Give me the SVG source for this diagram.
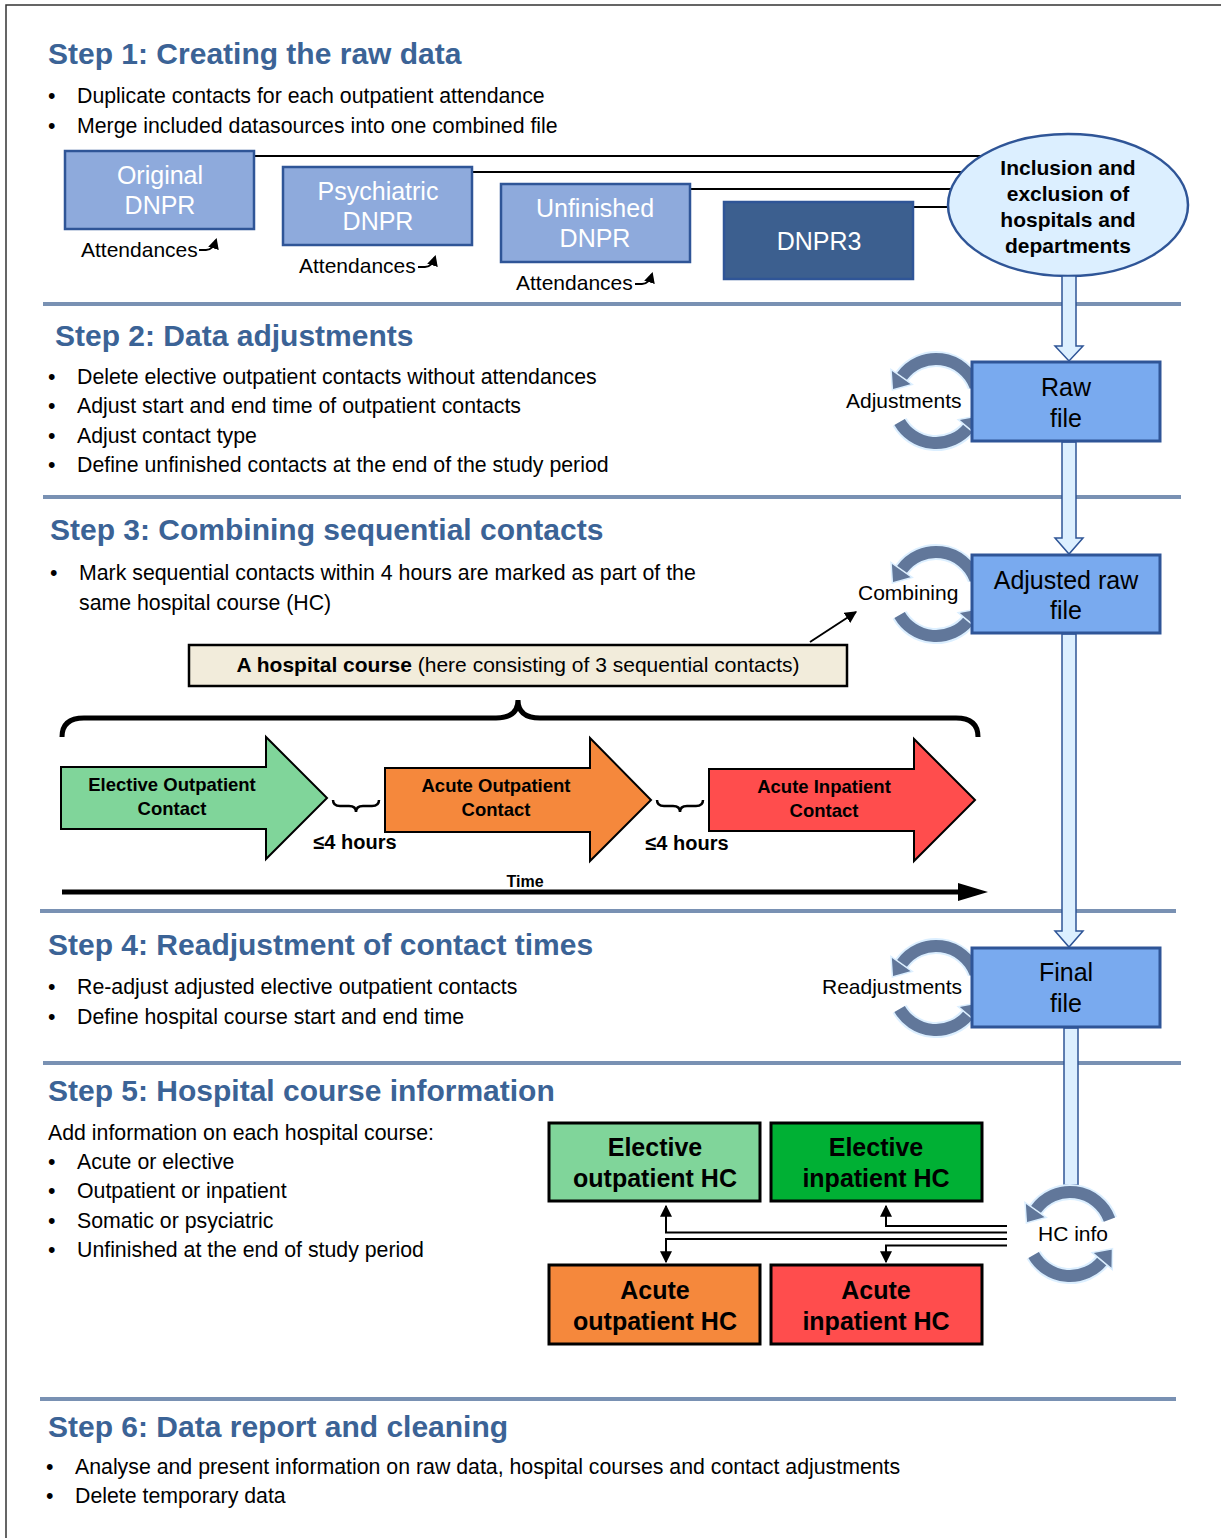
<svg xmlns="http://www.w3.org/2000/svg" width="1221" height="1538" viewBox="0 0 1221 1538">
<style>
  text { font-family: "Liberation Sans", Arial, sans-serif; fill: #000; }
  .title { font-size: 30px; font-weight: bold; fill: #3b6396; }
  .body { font-size: 21.3px; }
  .lbl { font-size: 21px; }
  .src { fill: #8eaadc; stroke: #2f5597; stroke-width: 2.5; }
  .srct { font-size: 25px; fill: #fff; text-anchor: middle; }
  .file { fill: #79aaef; stroke: #2f5597; stroke-width: 3; }
  .filet { font-size: 25px; text-anchor: middle; }
  .sep { stroke: #7991b3; stroke-width: 4; fill: none; }
  .blk { fill: #dcefff; stroke: #2f5597; stroke-width: 1.5; }
  .conn { stroke: #000; stroke-width: 2; fill: none; }
  .hc { stroke: #000; stroke-width: 3; }
  .hct { font-size: 25px; font-weight: bold; text-anchor: middle; }
  .arrt { font-size: 18.5px; font-weight: bold; text-anchor: middle; }
  .hrs { font-size: 20px; font-weight: bold; text-anchor: middle; }
  .cyc { fill: none; stroke: #61779a; stroke-width: 12; }
  .cycg { fill: none; stroke: #dcefff; stroke-width: 16; }
  .cyh { fill: #61779a; stroke: #dcefff; stroke-width: 1.5; }
</style>
<defs>
  <marker id="ah" markerUnits="userSpaceOnUse" viewBox="0 0 10 10" markerWidth="12" markerHeight="12" refX="9" refY="5" orient="auto">
    <path d="M0,0 L10,5 L0,10 Z" fill="#000"/>
  </marker>
  <marker id="ahs" markerUnits="userSpaceOnUse" viewBox="0 0 10 10" markerWidth="11" markerHeight="11" refX="8" refY="5" orient="auto">
    <path d="M0,0 L10,5 L0,10 Z" fill="#000"/>
  </marker>
  <g id="cycle">
    <path class="cycg" d="M39.5,-14.4 A42,42 0 0 0 -34.4,-24.1"/>
    <path class="cycg" d="M-36.4,21 A42,42 0 0 0 32.2,27"/>
    <path class="cyc" d="M39.5,-14.4 A42,42 0 0 0 -34.4,-24.1"/>
    <path class="cyc" d="M-36.4,21 A42,42 0 0 0 32.2,27"/>
    <polygon class="cyh" points="-23.8,-16.6 -45,-31.6 -43.6,-11"/>
    <polygon class="cyh" points="42.2,35.4 22.2,18.6 42.5,14.7"/>
  </g>
</defs>

<rect width="1221" height="1538" fill="#fff"/>
<path d="M1221,5 L6,5 L6,1538" fill="none" stroke="#333" stroke-width="1.5"/>

<!-- section separators -->
<g id="separators">
  <line class="sep" x1="43" y1="304" x2="1181" y2="304"/>
  <line class="sep" x1="43" y1="497" x2="1181" y2="497"/>
  <line class="sep" x1="40" y1="911" x2="1176" y2="911"/>
  <line class="sep" x1="43" y1="1063" x2="1181" y2="1063"/>
  <line class="sep" x1="40" y1="1399" x2="1176" y2="1399"/>
</g>

<!-- step texts -->
<g id="step1-text">
  <text class="title" x="48" y="64">Step 1: Creating the raw data</text>
  <text class="body" x="48" y="103">•</text><text class="body" x="77" y="103">Duplicate contacts for each outpatient attendance</text>
  <text class="body" x="48" y="133">•</text><text class="body" x="77" y="133">Merge included datasources into one combined file</text>
</g>
<g id="step2-text">
  <text class="title" x="55" y="346">Step 2: Data adjustments</text>
  <text class="body" x="48" y="384">•</text><text class="body" x="77" y="384">Delete elective outpatient contacts without attendances</text>
  <text class="body" x="48" y="413">•</text><text class="body" x="77" y="413">Adjust start and end time of outpatient contacts</text>
  <text class="body" x="48" y="443">•</text><text class="body" x="77" y="443">Adjust contact type</text>
  <text class="body" x="48" y="472">•</text><text class="body" x="77" y="472">Define unfinished contacts at the end of the study period</text>
</g>
<g id="step3-text">
  <text class="title" x="50" y="540">Step 3: Combining sequential contacts</text>
  <text class="body" x="50" y="580">•</text><text class="body" x="79" y="580">Mark sequential contacts within 4 hours are marked as part of the</text>
  <text class="body" x="79" y="610">same hospital course (HC)</text>
</g>
<g id="step4-text">
  <text class="title" x="48" y="955">Step 4: Readjustment of contact times</text>
  <text class="body" x="48" y="994">•</text><text class="body" x="77" y="994">Re-adjust adjusted elective outpatient contacts</text>
  <text class="body" x="48" y="1024">•</text><text class="body" x="77" y="1024">Define hospital course start and end time</text>
</g>
<g id="step5-text">
  <text class="title" x="48" y="1101">Step 5: Hospital course information</text>
  <text class="body" x="48" y="1140">Add information on each hospital course:</text>
  <text class="body" x="48" y="1169">•</text><text class="body" x="77" y="1169">Acute or elective</text>
  <text class="body" x="48" y="1198">•</text><text class="body" x="77" y="1198">Outpatient or inpatient</text>
  <text class="body" x="48" y="1228">•</text><text class="body" x="77" y="1228">Somatic or psyciatric</text>
  <text class="body" x="48" y="1257">•</text><text class="body" x="77" y="1257">Unfinished at the end of study period</text>
</g>
<g id="step6-text">
  <text class="title" x="48" y="1437">Step 6: Data report and cleaning</text>
  <text class="body" x="46" y="1474">•</text><text class="body" x="75" y="1474">Analyse and present information on raw data, hospital courses and contact adjustments</text>
  <text class="body" x="46" y="1503">•</text><text class="body" x="75" y="1503">Delete temporary data</text>
</g>

<!-- connectors -->
<g id="connectors">
  <line class="conn" x1="254" y1="156" x2="1000" y2="156"/>
  <line class="conn" x1="472" y1="172" x2="1000" y2="172"/>
  <line class="conn" x1="690" y1="189" x2="1000" y2="189"/>
  <line class="conn" x1="913" y1="207" x2="1000" y2="207"/>
  <path class="conn" d="M199,250 L206,250 Q213,250 216,240" marker-end="url(#ahs)"/>
  <path class="conn" d="M418,267 L425,267 Q432,267 435,257" marker-end="url(#ahs)"/>
  <path class="conn" d="M635,284 L642,284 Q649,284 652,274" marker-end="url(#ahs)"/>
  <line class="conn" x1="810" y1="642" x2="856" y2="612" stroke-width="2.5" marker-end="url(#ah)"/>
  <path class="conn" d="M1007,1226 L886,1226 L886,1206" stroke-width="3" marker-end="url(#ah)"/>
  <path class="conn" d="M1007,1232.5 L666,1232.5 L666,1206" stroke-width="3" marker-end="url(#ah)"/>
  <path class="conn" d="M1007,1239 L666,1239 L666,1262" stroke-width="3" marker-end="url(#ah)"/>
  <path class="conn" d="M1007,1245.5 L886,1245.5 L886,1262" stroke-width="3" marker-end="url(#ah)"/>
</g>

<!-- step 1 nodes -->
<g id="original-dnpr">
  <rect class="src" x="65" y="151" width="189" height="78"/>
  <text class="srct" x="160" y="184">Original</text>
  <text class="srct" x="160" y="214">DNPR</text>
</g>
<g id="psychiatric-dnpr">
  <rect class="src" x="283" y="167" width="189" height="78"/>
  <text class="srct" x="378" y="200">Psychiatric</text>
  <text class="srct" x="378" y="230">DNPR</text>
</g>
<g id="unfinished-dnpr">
  <rect class="src" x="501" y="184" width="189" height="78"/>
  <text class="srct" x="595" y="217">Unfinished</text>
  <text class="srct" x="595" y="247">DNPR</text>
</g>
<g id="dnpr3">
  <rect x="724" y="202" width="189" height="77" fill="#3c5f8f" stroke="#2f5597" stroke-width="2.5"/>
  <text class="srct" x="819" y="250">DNPR3</text>
</g>
<g id="attendances">
  <text class="lbl" x="81" y="257">Attendances</text>
  <text class="lbl" x="299" y="273">Attendances</text>
  <text class="lbl" x="516" y="290">Attendances</text>
</g>
<g id="inclusion">
  <ellipse cx="1068" cy="205" rx="120" ry="71" fill="#dcefff" stroke="#2f5597" stroke-width="2.5"/>
  <text x="1068" y="175" font-size="21" font-weight="bold" text-anchor="middle">Inclusion and</text>
  <text x="1068" y="201" font-size="21" font-weight="bold" text-anchor="middle">exclusion of</text>
  <text x="1068" y="227" font-size="21" font-weight="bold" text-anchor="middle">hospitals and</text>
  <text x="1068" y="253" font-size="21" font-weight="bold" text-anchor="middle">departments</text>
</g>

<!-- flow block arrows -->
<g id="flow-arrows">
  <path class="blk" d="M1062,276 L1062,346 L1055,346 L1069,361 L1083,346 L1076,346 L1076,276 Z"/>
  <path class="blk" d="M1062,442 L1062,538 L1055,538 L1069,554 L1083,538 L1076,538 L1076,442 Z"/>
  <path class="blk" d="M1062,634 L1062,931 L1055,931 L1069,947 L1083,931 L1076,931 L1076,634 Z"/>
  <path class="blk" d="M1064,1028 L1064,1185 L1078,1185 L1078,1028 Z"/>
</g>

<!-- cycles -->
<g id="adjustments">
  <use href="#cycle" x="936" y="401"/>
  <text class="lbl" x="846" y="408">Adjustments</text>
</g>
<g id="combining">
  <use href="#cycle" x="936" y="594"/>
  <text class="lbl" x="858" y="600">Combining</text>
</g>
<g id="readjustments">
  <use href="#cycle" x="936" y="988"/>
  <text class="lbl" x="822" y="994">Readjustments</text>
</g>
<g id="hc-info">
  <use href="#cycle" x="1070" y="1234"/>
  <text class="lbl" x="1073" y="1241" text-anchor="middle">HC info</text>
</g>

<g id="raw-file">
  <rect class="file" x="972" y="362" width="188" height="79"/>
  <text class="filet" x="1066" y="396">Raw</text>
  <text class="filet" x="1066" y="427">file</text>
</g>
<g id="adjusted-raw-file">
  <rect class="file" x="972" y="555" width="188" height="78"/>
  <text class="filet" x="1066" y="589">Adjusted raw</text>
  <text class="filet" x="1066" y="619">file</text>
</g>
<g id="final-file">
  <rect class="file" x="972" y="948" width="188" height="79"/>
  <text class="filet" x="1066" y="981">Final</text>
  <text class="filet" x="1066" y="1012">file</text>
</g>

<!-- step 3 illustration -->
<g id="hospital-course">
  <rect x="189" y="645" width="658" height="41" fill="#f2ecdb" stroke="#000" stroke-width="2.5"/>
  <text x="518" y="672" font-size="21" text-anchor="middle"><tspan font-weight="bold">A hospital course</tspan> (here consisting of 3 sequential contacts)</text>
</g>
<g id="brace">
  <path d="M62,737 Q62,718 84,718 L496,718 Q518,718 518,700 Q518,718 540,718 L956,718 Q978,718 978,737" fill="none" stroke="#000" stroke-width="5"/>
</g>
<g id="elective-outpatient-contact">
  <polygon points="61,767 266,767 266,737 327,798 266,859 266,829 61,829" fill="#80d59a" stroke="#000" stroke-width="2"/>
  <text class="arrt" x="172" y="791">Elective Outpatient</text>
  <text class="arrt" x="172" y="815">Contact</text>
</g>
<g id="acute-outpatient-contact">
  <polygon points="385,768 590,768 590,738 651,800 590,861 590,832 385,832" fill="#f5883c" stroke="#000" stroke-width="2"/>
  <text class="arrt" x="496" y="792">Acute Outpatient</text>
  <text class="arrt" x="496" y="816">Contact</text>
</g>
<g id="acute-inpatient-contact">
  <polygon points="709,769 914,769 914,739 975,800 914,861 914,831 709,831" fill="#ff4d4d" stroke="#000" stroke-width="2"/>
  <text class="arrt" x="824" y="793">Acute Inpatient</text>
  <text class="arrt" x="824" y="817">Contact</text>
</g>
<g id="gaps">
  <path d="M333,800 Q333,806 340,806 L349,806 Q356,806 356,812 Q356,806 363,806 L372,806 Q379,806 379,800" fill="none" stroke="#000" stroke-width="2.5"/>
  <path d="M657,800 Q657,806 664,806 L673,806 Q680,806 680,812 Q680,806 687,806 L696,806 Q703,806 703,800" fill="none" stroke="#000" stroke-width="2.5"/>
  <text class="hrs" x="355" y="849">≤4 hours</text>
  <text class="hrs" x="687" y="850">≤4 hours</text>
</g>
<g id="time-axis">
  <line x1="62" y1="892" x2="962" y2="892" stroke="#000" stroke-width="5"/>
  <polygon points="958,883 988,892 958,901" fill="#000"/>
  <text x="525" y="887" font-size="16" font-weight="bold" text-anchor="middle">Time</text>
</g>

<!-- step 5 boxes -->
<g id="elective-outpatient-hc">
  <rect class="hc" x="549" y="1123" width="211" height="78" fill="#80d59a"/>
  <text class="hct" x="655" y="1156">Elective</text>
  <text class="hct" x="655" y="1187">outpatient HC</text>
</g>
<g id="elective-inpatient-hc">
  <rect class="hc" x="771" y="1123" width="211" height="78" fill="#00b034"/>
  <text class="hct" x="876" y="1156">Elective</text>
  <text class="hct" x="876" y="1187">inpatient HC</text>
</g>
<g id="acute-outpatient-hc">
  <rect class="hc" x="549" y="1265" width="211" height="79" fill="#f5883c"/>
  <text class="hct" x="655" y="1299">Acute</text>
  <text class="hct" x="655" y="1330">outpatient HC</text>
</g>
<g id="acute-inpatient-hc">
  <rect class="hc" x="771" y="1265" width="211" height="79" fill="#ff4d4d"/>
  <text class="hct" x="876" y="1299">Acute</text>
  <text class="hct" x="876" y="1330">inpatient HC</text>
</g>
</svg>
